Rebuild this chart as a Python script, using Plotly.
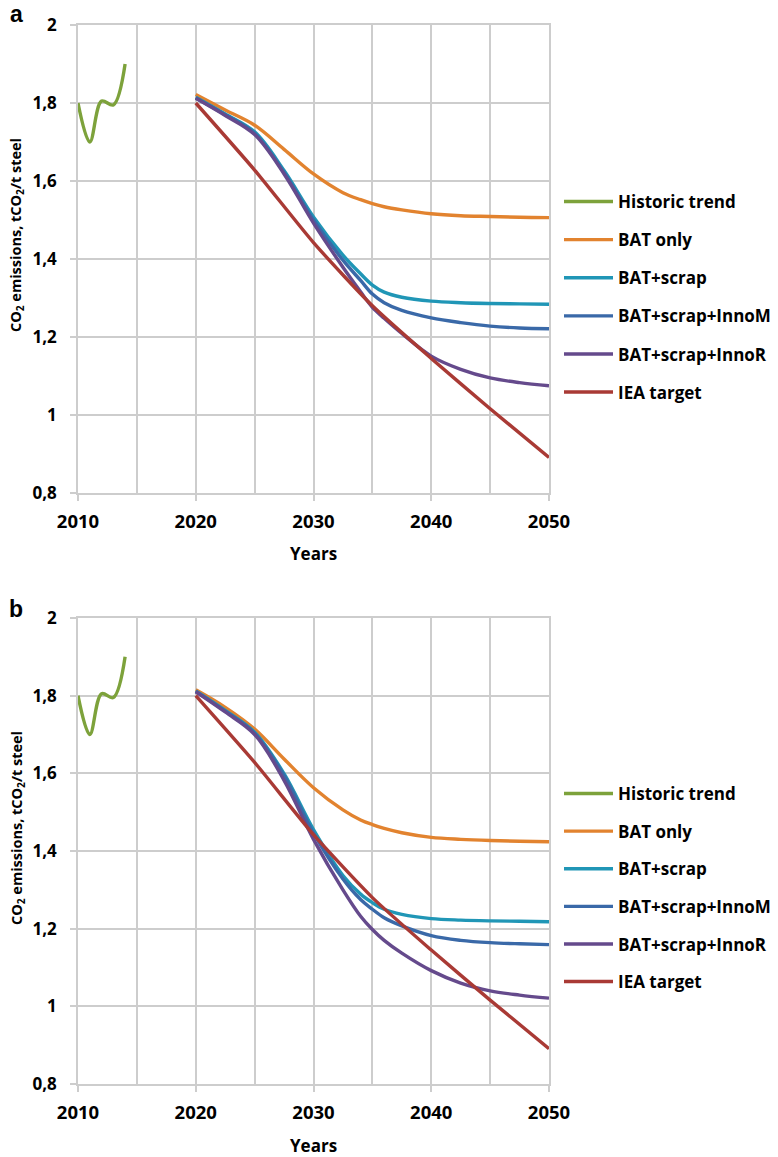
import plotly.graph_objects as go

# ---------------- data ----------------
hist_years = [2010, 2011, 2012, 2013, 2014]
hist_vals = [1.80, 1.70, 1.805, 1.795, 1.90]

scen_years = [2020, 2022.5, 2025, 2027.5, 2030, 2032.5, 2034, 2035, 2036, 2037.5, 2040, 2042.5, 2045, 2047.5, 2050]
iea_years = [2020, 2025, 2030, 2035, 2040, 2045, 2050]
iea_vals = [1.80, 1.628, 1.442, 1.280, 1.145, 1.016, 0.891]

# panel a
a_bat = [1.822, 1.782, 1.743, 1.681, 1.618, 1.570, 1.552, 1.542, 1.534, 1.526, 1.516, 1.511, 1.509, 1.507, 1.506]
a_scrap = [1.815, 1.772, 1.726, 1.627, 1.508, 1.410, 1.362, 1.333, 1.315, 1.302, 1.292, 1.288, 1.286, 1.285, 1.284]
a_innoM = [1.813, 1.770, 1.722, 1.622, 1.500, 1.397, 1.345, 1.310, 1.288, 1.268, 1.249, 1.237, 1.228, 1.223, 1.221]
a_innoR = [1.812, 1.768, 1.719, 1.618, 1.492, 1.379, 1.316, 1.276, 1.248, 1.209, 1.151, 1.117, 1.095, 1.083, 1.075]

# panel b
b_bat = [1.815, 1.770, 1.714, 1.637, 1.563, 1.506, 1.480, 1.468, 1.458, 1.447, 1.435, 1.430, 1.427, 1.425, 1.424]
b_scrap = [1.812, 1.762, 1.706, 1.599, 1.455, 1.337, 1.289, 1.267, 1.250, 1.237, 1.226, 1.222, 1.220, 1.219, 1.218]
b_innoM = [1.811, 1.760, 1.703, 1.594, 1.446, 1.328, 1.275, 1.250, 1.228, 1.207, 1.182, 1.170, 1.164, 1.161, 1.159]
b_innoR = [1.810, 1.758, 1.700, 1.582, 1.430, 1.300, 1.232, 1.198, 1.170, 1.137, 1.092, 1.060, 1.040, 1.029, 1.021]

names = ["Historic trend", "BAT only", "BAT+scrap", "BAT+scrap+InnoM", "BAT+scrap+InnoR", "IEA target"]
colors = ["#7DA23B", "#E2832F", "#2096B6", "#3A69A8", "#654A8C", "#A93A35"]

W, H = 778, 1157
L, R, T, B = 78, 229, 25, 73
PW, PH = W - L - R, H - T - B

def px(x):
    return (x - L) / PW

def py(y):
    return (H - B - y) / PH

FONT = "Open Sans"
LW = 3.4
fig = go.Figure()

panels = [
    ("x", "y", "legend", [a_bat, a_scrap, a_innoM, a_innoR]),
    ("x2", "y2", "legend2", [b_bat, b_scrap, b_innoM, b_innoR]),
]
for xa, ya, lg, series in panels:
    fig.add_trace(go.Scatter(x=hist_years, y=hist_vals, mode="lines", name=names[0],
                             line=dict(color=colors[0], width=LW, shape="spline", smoothing=1),
                             xaxis=xa, yaxis=ya, legend=lg, legendgroup=lg + "0"))
    for i, s in enumerate(series):
        fig.add_trace(go.Scatter(x=scen_years, y=s, mode="lines", name=names[i + 1],
                                 line=dict(color=colors[i + 1], width=LW, shape="spline", smoothing=1),
                                 xaxis=xa, yaxis=ya, legend=lg, legendgroup=lg + str(i + 1)))
    fig.add_trace(go.Scatter(x=iea_years, y=iea_vals, mode="lines", name=names[5],
                             line=dict(color=colors[5], width=LW, shape="spline", smoothing=0.6),
                             xaxis=xa, yaxis=ya, legend=lg, legendgroup=lg + "5"))

GRID = "#CDCDCD"
xtickfont = dict(family=FONT, size=18.5, color="black", weight="bold")
ytickfont = dict(family=FONT, size=17, color="black", weight="bold")

def xaxis(anchor):
    return dict(range=[2010, 2050], tickvals=[2010, 2020, 2030, 2040, 2050], showgrid=False,
                minor=dict(dtick=5, tick0=2010, showgrid=True, gridcolor=GRID, gridwidth=1.5),
                ticks="outside", ticklen=6, tickwidth=1.5, tickcolor=GRID,
                showline=True, linecolor=GRID, linewidth=1.5, mirror=True,
                tickfont=xtickfont, ticklabelstandoff=5, anchor=anchor, domain=[0, 1], zeroline=False)

def yaxis(anchor, dom):
    return dict(range=[0.8, 2.0], dtick=0.2, tick0=0.8, showgrid=True, gridcolor=GRID, gridwidth=1.5,
                ticks="outside", ticklen=6, tickwidth=1.5, tickcolor=GRID,
                showline=True, linecolor=GRID, linewidth=1.5, mirror=True,
                tickfont=ytickfont, ticklabelstandoff=10, anchor=anchor, domain=dom, zeroline=False)

top_dom = [py(493), 1.0]
bot_dom = [0.0, py(618)]

legfont = dict(family=FONT, size=17, color="black", weight="bold")
annos = []
for lab, ly in [("a", 14), ("b", 609)]:
    annos.append(dict(text=lab, x=px(16), y=py(ly), xref="paper", yref="paper", showarrow=False,
                      xanchor="center", yanchor="middle",
                      font=dict(family="Liberation Sans", size=23, color="black", weight="bold")))
for ty in [553, 1145]:
    annos.append(dict(text="Years", x=px(313), y=py(ty), xref="paper", yref="paper", showarrow=False,
                      xanchor="center", yanchor="middle",
                      font=dict(family=FONT, size=17, color="black", weight="bold")))
for ty in [235, 828]:
    annos.append(dict(text="CO<sub>2</sub> emissions, tCO<sub>2</sub>/t steel", x=px(17), y=py(ty),
                      xref="paper", yref="paper", showarrow=False, textangle=-90,
                      xanchor="center", yanchor="middle",
                      font=dict(family=FONT, size=14.5, color="black", weight="bold")))

fig.update_layout(
    width=W, height=H, margin=dict(l=L, r=R, t=T, b=B, autoexpand=False),
    paper_bgcolor="white", plot_bgcolor="white",
    separators=",.",
    xaxis=xaxis("y"), yaxis=yaxis("x", top_dom),
    xaxis2=xaxis("y2"), yaxis2=yaxis("x2", bot_dom),
    legend=dict(x=px(559), y=py(184), xanchor="left", yanchor="top", font=legfont, itemwidth=49,
                tracegroupgap=13, traceorder="grouped", bgcolor="rgba(0,0,0,0)"),
    legend2=dict(x=px(559), y=py(776), xanchor="left", yanchor="top", font=legfont, itemwidth=49,
                 tracegroupgap=12.5, traceorder="grouped", bgcolor="rgba(0,0,0,0)"),
    annotations=annos,
    showlegend=True,
)

fig.write_html("out.html", config={"displayModeBar": False},
               post_script="document.body.style.margin='0px';")
